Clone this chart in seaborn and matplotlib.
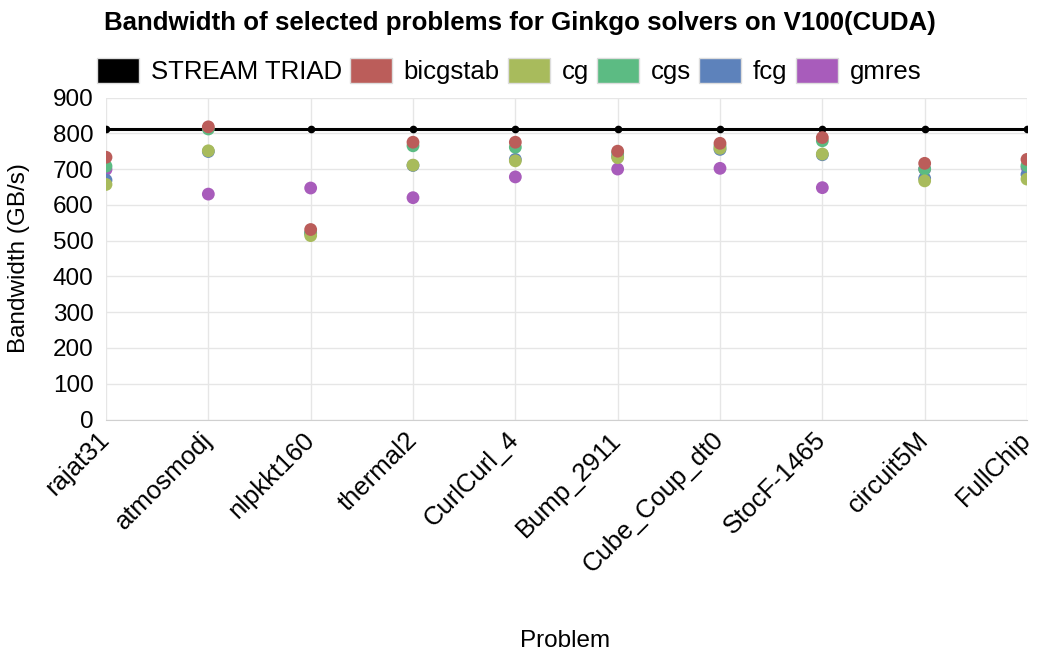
import numpy as np
import pandas as pd
import matplotlib
matplotlib.use("Agg")
import matplotlib.pyplot as plt
import matplotlib.patches as mpatches
import seaborn as sns

problems = ["rajat31", "atmosmodj", "nlpkkt160", "thermal2", "CurlCurl_4",
            "Bump_2911", "Cube_Coup_dt0", "StocF-1465", "circuit5M", "FullChip"]
stream_triad = [813] * len(problems)
bicgstab = [733, 818, 531, 775, 775, 750, 772, 788, 716, 727]
cg = [657, 751, 514, 711, 723, 732, 758, 742, 667, 672]
cgs = [708, 812, 522, 765, 761, 745, 764, 779, 700, 710]
fcg = [669, 749, 520, 710, 727, 735, 755, 740, 674, 685]
gmres = [699, 630, 647, 620, 678, 700, 702, 648, 700, 705]

solvers = ["bicgstab", "cg", "cgs", "fcg", "gmres"]
colors = ["#bb5d5a", "#a8bb5c", "#5cbb83", "#5d82bb", "#a85cbb"]

sns.set_style("white")
plt.rcParams["font.family"] = ["Liberation Sans", "DejaVu Sans"]
plt.rcParams["text.color"] = "black"
plt.rcParams["axes.labelcolor"] = "black"
plt.rcParams["xtick.color"] = "black"
plt.rcParams["ytick.color"] = "black"

df = pd.DataFrame({
    "Problem": problems * 5,
    "Bandwidth": bicgstab + cg + cgs + fcg + gmres,
    "solver": np.repeat(solvers, len(problems)),
})
df["x"] = df["Problem"].map({p: i for i, p in enumerate(problems)})

fig = plt.figure(figsize=(10.4, 6.52), dpi=100)
ax = fig.add_axes([106 / 1040, 1 - 419.5 / 652, 921 / 1040, 322 / 652])

# STREAM TRIAD reference line
ax.plot(range(len(problems)), stream_triad, color="black", lw=2.2,
        marker="o", ms=4.5, zorder=3)

# draw gmres first so bicgstab ends up on top
for s in solvers[::-1]:
    sub = df[df["solver"] == s]
    sns.scatterplot(data=sub, x="x", y="Bandwidth", ax=ax,
                    color=colors[solvers.index(s)], s=85, edgecolor="none",
                    legend=False, zorder=4)

ax.set_xlim(0, len(problems) - 1)
ax.set_ylim(0, 900)
ax.set_yticks(range(0, 901, 100))
ax.set_xticks(range(len(problems)))
ax.set_xticklabels(problems, rotation=45, ha="right", va="center",
                   rotation_mode="anchor", fontsize=18.5)
ax.tick_params(axis="y", labelsize=17.5, length=0, pad=9)
ax.tick_params(axis="x", length=0, pad=12)
ax.grid(True, color="#e6e6e6", lw=1)
ax.set_axisbelow(True)
for sp in ["top", "right", "left"]:
    ax.spines[sp].set_visible(False)
ax.spines["bottom"].set_color("#d0d0d0")
ax.set_xlabel("Problem", fontsize=17.5)
ax.xaxis.set_label_coords(0.498, -0.655)
ax.set_ylabel("Bandwidth (GB/s)", fontsize=17.5)
ax.yaxis.set_label_coords(-0.082, 0.5)

fig.text(0.5, 1 - 23 / 652, "Bandwidth of selected problems for Ginkgo solvers on V100(CUDA)",
         ha="center", va="center", fontsize=18.6, fontweight="bold")

handles = [mpatches.Patch(facecolor="black", edgecolor="#dddddd")]
handles += [mpatches.Patch(facecolor=c, edgecolor="#dddddd") for c in colors]
fig.legend(handles, ["STREAM TRIAD"] + solvers, loc="center left",
           bbox_to_anchor=(97 / 1040, 1 - 71 / 652), ncol=6, frameon=False,
           fontsize=18.5, handlelength=1.64, handleheight=1.1,
           handletextpad=0.45, columnspacing=0.32, borderaxespad=0,
           borderpad=0)

fig.savefig("out.png", dpi=100)
